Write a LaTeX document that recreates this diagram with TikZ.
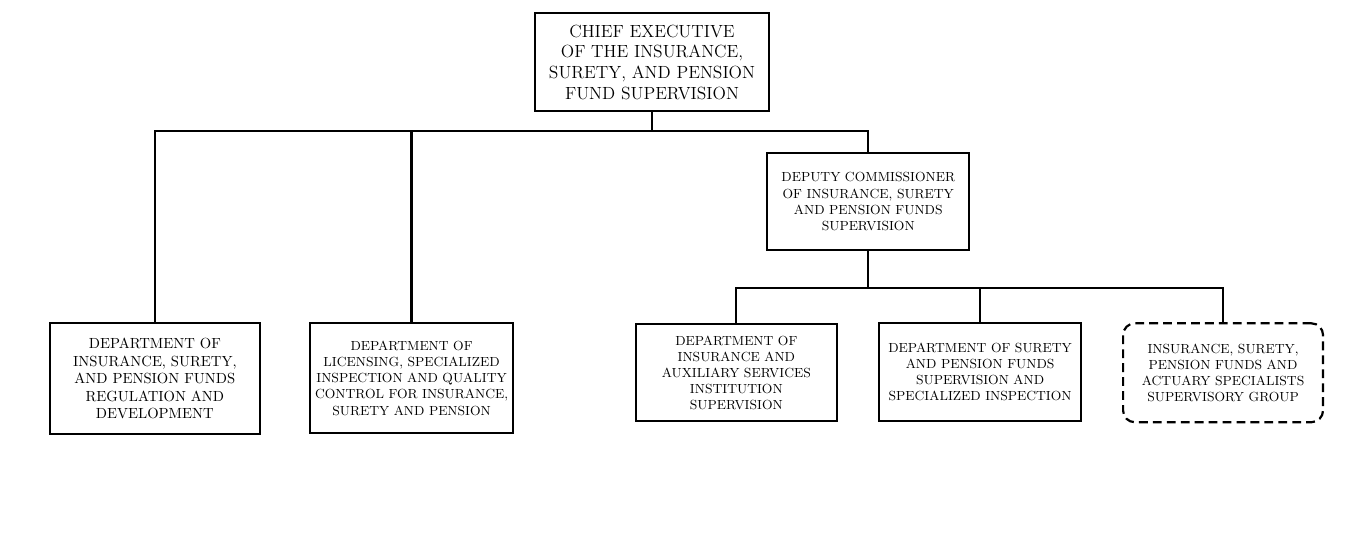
\documentclass[tikz,border=0pt]{standalone}
\usetikzlibrary{positioning}

\begin{document}
\begin{tikzpicture}[line width=1.5pt,
  unit/.style={draw, align=center, inner sep=2pt},
  group/.style={unit, dashed, dash pattern=on 6pt off 3.5pt, rounded corners=8pt}]
  \useasboundingbox (0,0) rectangle (32.82,13.13);
  \node[unit, font=\large, minimum width=5.61cm, minimum height=2.35cm] (chief) at (15.62,11.64) {CHIEF EXECUTIVE\\ OF THE INSURANCE,\\ SURETY, AND PENSION\\ FUND SUPERVISION};
  \node[unit, font=\small, minimum width=4.84cm, minimum height=2.32cm] (deputy) at (20.80,8.30) {DEPUTY COMMISSIONER\\ OF INSURANCE, SURETY\\ AND PENSION FUNDS\\ SUPERVISION};
  \node[unit, minimum width=5.03cm, minimum height=2.66cm] (regul) at (3.71,4.06) {DEPARTMENT OF\\ INSURANCE, SURETY,\\ AND PENSION FUNDS\\ REGULATION AND\\ DEVELOPMENT};
  \node[unit, font=\small, minimum width=4.86cm, minimum height=2.64cm] (licens) at (9.86,4.07) {DEPARTMENT OF\\ LICENSING, SPECIALIZED\\ INSPECTION AND QUALITY\\ CONTROL FOR INSURANCE,\\ SURETY AND PENSION};
  \node[unit, font=\small, minimum width=4.82cm, minimum height=2.32cm] (auxil) at (17.64,4.20) {DEPARTMENT OF\\ INSURANCE AND\\ AUXILIARY SERVICES\\ INSTITUTION\\ SUPERVISION};
  \node[unit, font=\small, minimum width=4.84cm, minimum height=2.35cm] (surety) at (23.48,4.22) {DEPARTMENT OF SURETY\\ AND PENSION FUNDS\\ SUPERVISION AND\\ SPECIALIZED INSPECTION};
  \node[group, font=\small, minimum width=4.79cm, minimum height=2.37cm] (actuary) at (29.30,4.20) {INSURANCE, SURETY,\\ PENSION FUNDS AND\\ ACTUARY SPECIALISTS\\ SUPERVISORY GROUP};
  % upper bus
  \coordinate (busA) at (0,10.00);
  \draw (chief.south) -- (chief.south |- busA);
  \draw (regul.north) |- (busA -| deputy.north) -- (deputy.north);
  \draw (licens.north) -- (licens.north |- busA);
  % lower bus
  \coordinate (busB) at (0,6.23);
  \draw (deputy.south) -- (deputy.south |- busB);
  \draw (auxil.north) |- (busB -| actuary.north) -- (actuary.north);
  \draw (surety.north) -- (surety.north |- busB);
\end{tikzpicture}
\end{document}
